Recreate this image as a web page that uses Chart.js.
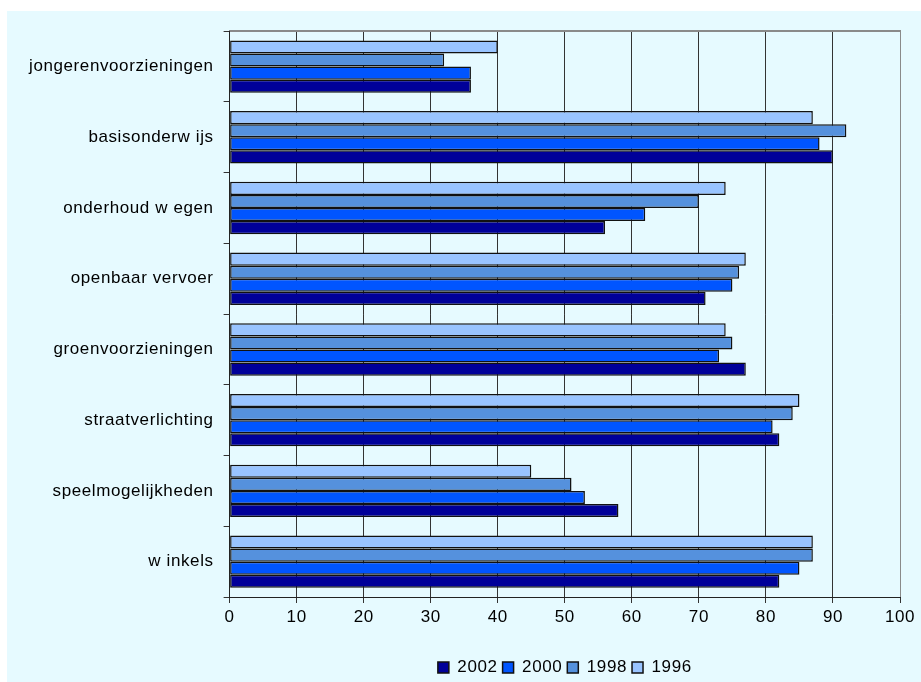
<!DOCTYPE html>
<html>
<head>
<meta charset="utf-8">
<script src="https://cdn.jsdelivr.net/npm/chart.js@4/dist/chart.umd.min.js"></script>
<style>
  html, body { margin: 0; padding: 0; background: #ffffff; }
  #wrap { position: absolute; left: 7px; top: 11px; width: 914px; height: 671px; background: #E6FAFF; }
</style>
</head>
<body>
<div id="wrap"><canvas id="c"></canvas></div>
<script>
const categories = ["jongerenvoorzieningen", "basisonderw ijs", "onderhoud w egen", "openbaar vervoer", "groenvoorzieningen", "straatverlichting", "speelmogelijkheden", "w inkels"];
const years = ["1996", "1998", "2000", "2002"];
const values1996 = [40, 87, 74, 77, 74, 85, 45, 87];
const values1998 = [32, 92, 70, 76, 75, 84, 51, 87];
const values2000 = [36, 88, 62, 75, 73, 81, 53, 85];
const values2002 = [36, 90, 56, 71, 77, 82, 58, 82];
const xTicks = [0, 10, 20, 30, 40, 50, 60, 70, 80, 90, 100];

const colors = ["#99C4FF", "#5591DD", "#0055FF", "#000099"];
const LS = "0.6px";
const FONT = { family: "'Liberation Sans', Arial, sans-serif", size: 17 };

const spacingPlugin = {
  id: 'spacing',
  beforeLayout(chart) { chart.ctx.letterSpacing = LS; },
  beforeDraw(chart) { chart.ctx.letterSpacing = LS; }
};

const seriesValues = [values1996, values1998, values2000, values2002];
const datasets = years.map((y, i) => ({
  label: y,
  data: seriesValues[i],
  backgroundColor: colors[i],
  borderColor: "#111111",
  borderWidth: 1.5,
  borderSkipped: false,
  categoryPercentage: 0.74,
  barPercentage: 1.0
}));

new Chart(document.getElementById('c'), {
  type: 'bar',
  data: { labels: categories, datasets },
  plugins: [spacingPlugin],
  options: {
    indexAxis: 'y',
    responsive: true,
    maintainAspectRatio: false,
    animation: false,
    layout: { padding: { left: 12, right: 21, top: 3, bottom: -4 } },
    scales: {
      x: {
        min: 0, max: 100,
        afterBuildTicks: s => { s.ticks = xTicks.map(v => ({ value: v })); },
        afterFit: s => { s.height = 57; },
        grid: {
          color: ctx => (ctx.tick && ctx.tick.value === 100) ? '#8a8a8a' : '#333333',
          lineWidth: 1,
          tickLength: 6,
          tickColor: '#333333'
        },
        border: { color: '#222222', width: 1 },
        ticks: { color: '#000000', font: FONT, padding: 4 }
      },
      xTop: {
        axis: 'x', position: 'top', min: 0, max: 100,
        grid: { display: false },
        ticks: { display: false },
        border: { color: '#8a8a8a', width: 2 }
      },
      y: {
        grid: { drawOnChartArea: false, offset: true, tickLength: 6, color: '#333333' },
        border: { color: '#222222', width: 1 },
        ticks: { color: '#000000', font: FONT, padding: 10 }
      }
    },
    plugins: {
      legend: {
        position: 'bottom',
        fullSize: false,
        reverse: true,
        labels: { font: FONT, color: '#000000', boxWidth: 11, boxHeight: 11, padding: 5 }
      },
      tooltip: { enabled: false }
    }
  }
});
</script>
</body>
</html>
